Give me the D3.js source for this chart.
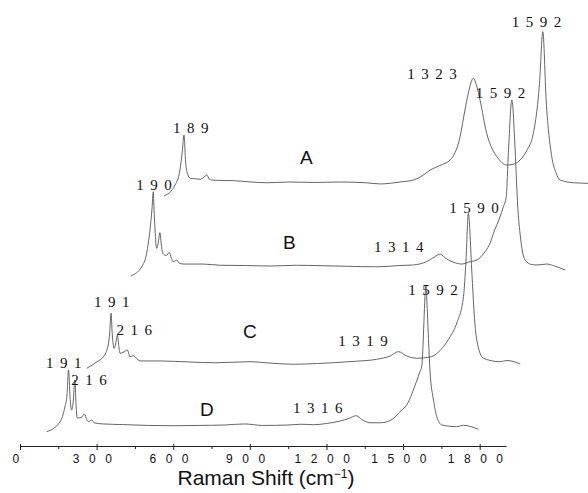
<!DOCTYPE html>
<html>
<head>
<meta charset="utf-8">
<script src="https://cdn.jsdelivr.net/npm/d3@7"></script>
<style>
  body { margin: 0; background: #fff; }
  svg { display: block; }
</style>
</head>
<body>
<div class="chart"></div>
<script>
(function() {

    // spectra, [Raman shift cm-1, intensity a.u.]
    var seriesA = [[110,-9.3],[153,-2],[172,8],[181,20],[188,31.3],[194,14],[201,5.8],[212,2.5],[230,2.2],[251,1.8],[265,3],[277,4.7],[287,2],[297,1.3],[340,1],[381,0.9],[450,0],[512,-0.5],[600,0],[700,-0.3],[800,0],[900,-0.5],[956,-1.3],[1034,0],[1086,1.3],[1120,4],[1152,8],[1190,11],[1230,14.7],[1269,30.2],[1288,48],[1301,59.1],[1321,69.1],[1334,64],[1347,54.7],[1373,32.5],[1395,22],[1413,16.9],[1452,11.3],[1480,12],[1504,14.7],[1530,21],[1556,32.5],[1580,65.8],[1593,100.2],[1606,54.7],[1628,16.9],[1645,6],[1661,1.3],[1713,-0.5],[1770,-0.9],[1810,-1.5]];
    var seriesB = [[102,-6.5],[144,-0.5],[163,8.5],[176,24],[184,38],[189,49.5],[192,38],[196,24],[202,11.8],[208,15],[215,22.2],[220,15],[226,8.5],[240,7],[252,9.1],[260,5],[267,2.9],[281,4],[290,2],[307,1.3],[384,1.3],[450,0.5],[550,0.3],[650,0],[750,0.5],[842,0.2],[950,-0.2],[1050,-0.5],[1077,-0.5],[1150,0.3],[1208,0.7],[1260,3],[1290,6],[1312,8],[1335,5],[1365,2.5],[1397,1.3],[1430,2.9],[1456,4],[1490,10],[1508,15.3],[1521,21.8],[1545,32],[1560,39.5],[1571,46.2],[1580,77.3],[1593,110.7],[1606,77.3],[1616,40],[1625,21.8],[1645,4],[1670,1],[1691,0.7],[1730,1.3],[1760,0],[1802,-2.7]];
    var seriesC = [[97,-4.2],[140,0.5],[162,3.5],[181,11.3],[187,20],[192,32.5],[197,18],[204,9.1],[210,12],[217,18],[222,11],[227,5.8],[240,6.5],[256,8],[266,3.5],[279,4.2],[305,0.7],[384,0.7],[500,0],[600,-0.5],[736,0.2],[820,-0.8],[906,-1.5],[1000,-1],[1061,-0.5],[1150,0.5],[1232,1.8],[1285,4],[1317,6.9],[1350,4],[1389,2.5],[1441,3.3],[1493,10.2],[1520,17],[1546,26],[1572,43.5],[1582,68],[1591,99.1],[1605,59.3],[1614,32],[1624,14.7],[1650,2.5],[1716,0.2],[1742,1],[1794,-1.3]];
    var seriesD = [[105,-4.5],[157,2.2],[176,12.2],[184,20],[190,36.7],[197,16],[202,10],[208,15],[215,30],[219,15],[224,4.7],[240,5],[252,7.3],[262,3.5],[268,2.2],[281,3.3],[290,1.5],[325,0.7],[400,0.3],[500,-0.3],[600,-0.5],[700,-0.3],[800,0],[880,0.7],[950,-0.3],[1050,0],[1100,0.5],[1150,0.2],[1200,1],[1250,2.5],[1290,4.5],[1316,6.2],[1340,3.5],[1370,1.5],[1410,1.5],[1450,3],[1488,8.9],[1520,15],[1540,23.3],[1566,35.5],[1573,38.9],[1590,93.3],[1593,83.3],[1606,34.5],[1619,16.7],[1632,5.5],[1652,0],[1710,-1.1],[1736,-0.2],[1795,-2.9]];

    var traceNames = ['A', 'B', 'C', 'D'];
    var tickLabels = [0, 300, 600, 900, 1200, 1500, 1800];
    var minorTicks = [150, 450, 750, 1050, 1350, 1650];

    // labelled peaks: trace, shift
    var peakTrace = ['A', 'A', 'A', 'B', 'B', 'B', 'C', 'C', 'C', 'C', 'D', 'D', 'D', 'D'];
    var peakShift = [189, 1323, 1592, 190, 1314, 1592, 191, 216, 1319, 1590, 191, 216, 1316, 1592];

    // layout: waterfall offsets (px) and label nudges
    var offsets = {
        A: { dx: 116, base: 182 },
        B: { dx: 85,  base: 266 },
        C: { dx: 42,  base: 362 },
        D: { dx: 0,   base: 425 }
    };
    var nameAt = { A: [642, 12], B: [697, 11.3], C: [709, 16], D: [705, 6] };
    var peakNudge = [[-11,-2.3],[-66,0.7],[-31,-4.4],[-17,-1.7],[-66,-2.3],[-36,-1.7],[-17,-6.6],[-1,0],[-60,-5.7],[-19,0],[-22.6,-1.7],[-3.6,5],[-63,-3],[-18.7,-5]];

    var W = 588, H = 493;
    var axisY = 446;

    var svg = d3.select('.chart')
        .append('svg')
        .attr('width', W)
        .attr('height', H);

    var x = d3.scaleLinear().domain([0, 1903]).range([20, 506]);

    var data = { A: seriesA, B: seriesB, C: seriesC, D: seriesD };

    function xFor(name) {
        var r = x.range();
        return x.copy().range([r[0] + offsets[name].dx, r[1] + offsets[name].dx]);
    }
    function yFor(name) {
        var b = offsets[name].base;
        return d3.scaleLinear().domain([0, 100]).range([b, b - 150]);
    }

    traceNames.forEach(function(name) {
        var xs = xFor(name), ys = yFor(name);
        var line = d3.line()
            .x(function(d) { return xs(d[0]); })
            .y(function(d) { return ys(d[1]); })
            .curve(d3.curveMonotoneX);

        svg.append('path')
            .datum(data[name])
            .attr('fill', 'none')
            .attr('stroke', '#555')
            .attr('stroke-width', 0.9)
            .attr('stroke-linejoin', 'round')
            .attr('d', line);

        svg.append('text')
            .attr('x', xs(nameAt[name][0]))
            .attr('y', ys(nameAt[name][1]))
            .attr('font-family', 'Liberation Sans, Arial, sans-serif')
            .attr('font-size', 19)
            .attr('fill', '#111')
            .text(name);
    });

    // peak labels
    peakShift.forEach(function(wn, i) {
        var name = peakTrace[i];
        var xs = xFor(name), ys = yFor(name);
        var p = data[name].reduce(function(a, b) {
            return Math.abs(b[0] - wn) < Math.abs(a[0] - wn) ? b : a;
        });
        svg.append('text')
            .attr('x', xs(p[0]) + peakNudge[i][0])
            .attr('y', ys(p[1]) + peakNudge[i][1])
            .attr('font-family', 'Liberation Serif, Times New Roman, serif')
            .attr('font-size', 15)
            .attr('letter-spacing', '6.5px')
            .attr('fill', '#111')
            .text(wn);
    });

    // axis
    var gMinor = svg.append('g')
        .attr('transform', 'translate(0,' + axisY + ')')
        .call(d3.axisBottom(x).tickValues(minorTicks).tickSize(3).tickSizeOuter(0).tickFormat(''));
    gMinor.select('.domain').remove();

    var gAxis = svg.append('g')
        .attr('transform', 'translate(0,' + axisY + ')')
        .call(d3.axisBottom(x).tickValues(tickLabels).tickSize(4).tickSizeOuter(0).tickFormat(d3.format('d')));

    gAxis.selectAll('.tick line').attr('y1', -2);
    gAxis.selectAll('.tick text')
        .attr('y', 17)
        .attr('dy', 0)
        .attr('dx', 0)
        .attr('font-family', 'Liberation Sans, Arial, sans-serif')
        .attr('font-size', 12)
        .attr('letter-spacing', '9.5px')
        .attr('fill', '#111');
    svg.selectAll('.domain, .tick line').attr('stroke', '#222');

    var title = svg.append('text')
        .attr('x', 266)
        .attr('y', 485)
        .attr('text-anchor', 'middle')
        .attr('font-family', 'Liberation Sans, Arial, sans-serif')
        .attr('font-size', 21)
        .attr('fill', '#111');
    title.append('tspan').text('Raman Shift (cm');
    title.append('tspan').attr('font-size', 12).attr('dy', -7).text('\u22121');
    title.append('tspan').attr('dy', 7).text(')');

})()
</script>
</body>
</html>
